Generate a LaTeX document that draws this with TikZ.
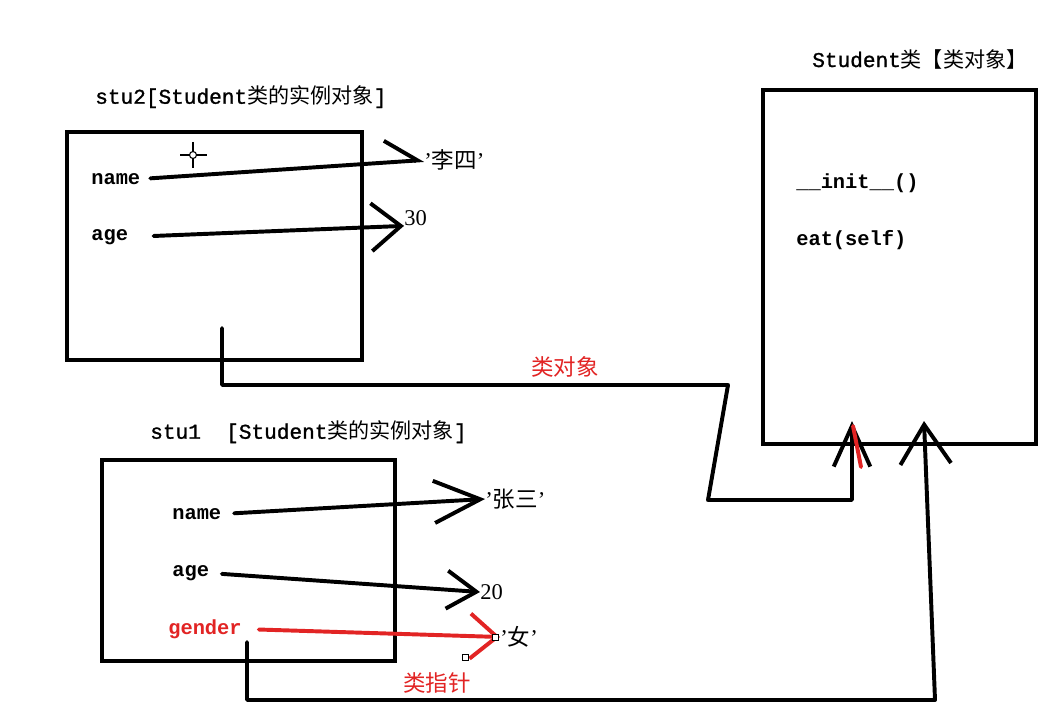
\documentclass[tikz,border=0pt]{standalone}
\usepackage{fontspec}
\setmainfont{Liberation Serif}
\setmonofont{Liberation Mono}
\newfontfamily\titlemono[FakeBold=1.2]{Liberation Mono}
\newfontfamily\cjk{Noto Sans CJK SC}
\usetikzlibrary{arrows.meta}
\definecolor{penred}{RGB}{226,36,36}
\newcommand{\zh}[1]{{\cjk #1}}

\begin{document}
\begin{tikzpicture}[x=0.025cm,y=0.025cm,
  frame/.style={line width=3pt},
  title/.style={font=\fontsize{15}{18}\selectfont\titlemono,anchor=west,inner sep=0pt},
  field/.style={font=\fontsize{14.5}{17}\selectfont\ttfamily\bfseries,anchor=west,inner sep=0pt},
  val/.style={font=\fontsize{16}{18}\selectfont,anchor=west,inner sep=0pt},
  ptr/.style={line width=2.8pt,line cap=round,line join=round},
  note/.style={font=\fontsize{16}{18}\selectfont\cjk,text=penred,inner sep=0pt}]
\useasboundingbox[fill=white] (0,0) rectangle (1043,-722);

% instance object stu2
\node[title] (t2) at (95,-97) {stu2[Student\zh{类的实例对象}]};
\draw[frame] (67,-132) rectangle (362,-360);
\node[field] (name2) at (91,-179) {name};
\node[field] (age2) at (91,-237) {age};
\node[val] (lisi) at (424,-160) {'\zh{李四}'};
\node[val] (v30) at (404,-218) {30};
\draw[ptr,shorten <=7pt,-{Straight Barb[harpoon,length=23pt,width=31pt]}] (name2.east) -- (lisi.west);
\draw[ptr,shorten <=18pt,-{Straight Barb[length=21pt,width=34pt]}] (age2.east) -- (v30.south west);

% cursor mark
\draw[line width=1.2pt] (180,-155) -- (207,-155) (193,-142) -- (193,-168);
\draw[line width=0.8pt,fill=white] (193,-155) circle (3.5);

% class object Student
\node[title] (tc) at (812,-59) {Student\zh{类【类对象】}};
\draw[frame] (763,-90) rectangle (1036,-444);
\node[field] (init) at (796,-183) {\_\_init\_\_()};
\node[field] (eat) at (796,-240) {eat(self)};

% instance object stu1
\node[title] (t1) at (150,-432) {stu1\ \ [Student\zh{类的实例对象}]};
\draw[frame] (102,-460) rectangle (395,-661);
\node[field] (name1) at (172,-514) {name};
\node[field] (age1) at (172,-573) {age};
\node[field,text=penred] (gender) at (168,-629) {gender};
\node[val] (zhangsan) at (485,-499) {'\zh{张三}'};
\node[val] (v20) at (480,-592) {20};
\node[val] (nv) at (500,-637) {'\zh{女}'};
\draw[ptr,shorten <=9pt,-{Straight Barb[length=33pt,width=30pt]}] (name1.east) -- (zhangsan.west);
\draw[ptr,shorten <=9pt,-{Straight Barb[length=21pt,width=27pt]}] (age1.east) -- (v20.west);
\draw[ptr,penred,shorten <=12pt,-{Straight Barb[length=19pt,width=32pt]}] (gender.east) -- (nv.west);
\draw[line width=0.6pt,fill=white] (492,-634) rectangle (498,-640) (462,-654) rectangle (468,-660);

% pointers to the class object
\coordinate (p2) at (222,-328);
\coordinate (k1) at (728,-385);
\coordinate (k2) at (708,-500);
\coordinate (tipA) at (852,-421);
\draw[ptr,-{Straight Barb[length=29pt,width=26pt]}] (p2) |- (k1) -- (k2) -| (tipA);
\draw[ptr,penred] (853,-426) -- (861,-467);
\node[note] (lblobj) at (565,-367) {类对象};

\coordinate (p1) at (247,-642);
\coordinate (k3) at (935,-700);
\coordinate (tipB) at (924,-421);
\draw[ptr,-{Straight Barb[length=28pt,width=36pt]}] (p1) |- (k3) -- (tipB);
\node[note] (lblptr) at (437,-683) {类指针};
\end{tikzpicture}
\end{document}
